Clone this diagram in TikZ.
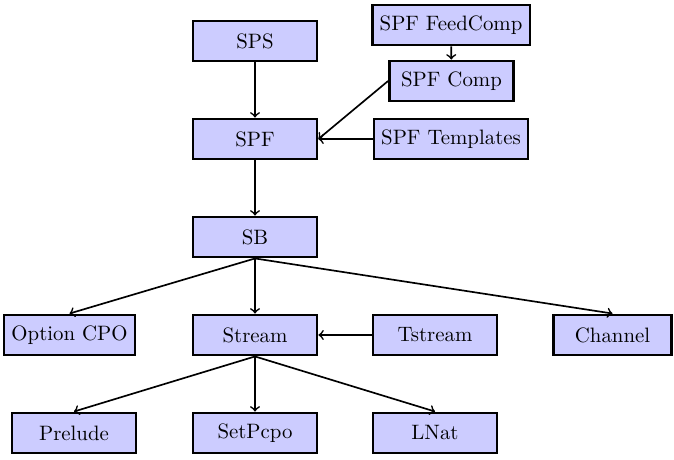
\documentclass[tikz,border=0pt]{standalone}
\begin{document}
\begin{tikzpicture}[x=0.48pt,y=-0.48pt,
  box/.style={draw=black, line width=1.4pt, fill=blue!20, minimum width=59.5pt, minimum height=19.2pt, inner sep=2pt},
  conn/.style={->, thick}]
\useasboundingbox (0,0) rectangle (674,460);
\node[box] (sps) at (255,41) {SPS};
\node[box, minimum width=75.8pt] (feed) at (451,25) {SPF FeedComp};
\node[box] (comp) at (451.5,81) {SPF Comp};
\node[box] (spf) at (255,139) {SPF};
\node[box, minimum width=73.9pt] (tmpl) at (451,139) {SPF Templates};
\node[box] (sb) at (255,237) {SB};
\node[box, minimum width=62.9pt] (opt) at (69.5,335) {Option CPO};
\node[box] (stream) at (255,335) {Stream};
\node[box] (tstream) at (435,335) {Tstream};
\node[box, minimum width=57pt] (chan) at (612.5,335) {Channel};
\node[box] (prelude) at (74,433) {Prelude};
\node[box] (setp) at (255,433) {SetPcpo};
\node[box] (lnat) at (435,433) {LNat};
\draw[conn] (sps) -- (spf);
\draw[conn] (feed) -- (comp);
\draw[conn] (comp.west) -- (spf.east);
\draw[conn] (tmpl) -- (spf);
\draw[conn] (spf) -- (sb);
\draw[conn] (sb.south) -- (opt.north);
\draw[conn] (sb) -- (stream);
\draw[conn] (sb.south) -- (chan.north);
\draw[conn] (tstream) -- (stream);
\draw[conn] (stream.south) -- (prelude.north);
\draw[conn] (stream) -- (setp);
\draw[conn] (stream.south) -- (lnat.north);
\end{tikzpicture}
\end{document}
